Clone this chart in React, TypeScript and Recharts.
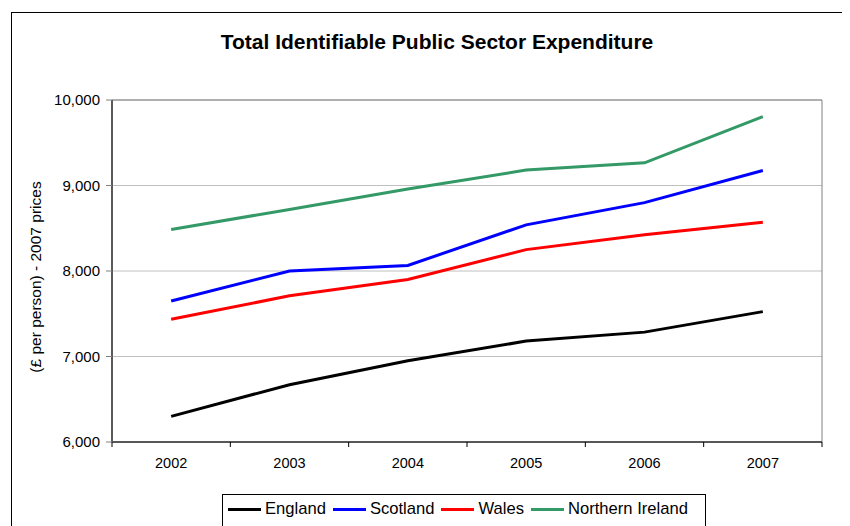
import React from "react";
import { LineChart, Line, XAxis, YAxis, CartesianGrid, ReferenceArea } from "recharts";

// values (£ per person, 2007 prices)
const years = ["2002", "2003", "2004", "2005", "2006", "2007"];
const england = [6300, 6670, 6950, 7180, 7285, 7525];
const scotland = [7650, 8000, 8065, 8540, 8800, 9175];
const wales = [7435, 7710, 7900, 8250, 8425, 8570];
const northernIreland = [8485, 8720, 8960, 9180, 9265, 9805];
const yTicks = [6000, 7000, 8000, 9000, 10000];

const series = [
    { key: "england", name: "England", color: "#000000" },
    { key: "scotland", name: "Scotland", color: "#0000ff" },
    { key: "wales", name: "Wales", color: "#ff0000" },
    { key: "northernIreland", name: "Northern Ireland", color: "#339966" },
];

const FONT = '"Liberation Sans", Arial, sans-serif';
const X_TICK_SIZE = 8;
const X_TICK_MARGIN = 8;

// category label plus Excel-style tick marks on the band edges
const YearTick = (props: any) => {
    const { x, y, payload, index, visibleTicksCount } = props;
    const half = payload && payload.offset ? payload.offset : 59;
    const axisY = y - X_TICK_SIZE - X_TICK_MARGIN;
    const last = index === (visibleTicksCount ?? years.length) - 1;
    return (
        <g>
            <line x1={x - half} y1={axisY} x2={x - half} y2={axisY + 5} stroke="#000" />
            {last && <line x1={x + half} y1={axisY} x2={x + half} y2={axisY + 5} stroke="#000" />}
            <text
                x={x}
                y={y}
                dy="0.71em"
                textAnchor="middle"
                fontSize={14.5}
                fontFamily={FONT}
                fill="#000"
            >
                {payload.value}
            </text>
        </g>
    );
};

export default function App() {
    const data = years.map((year, i) => ({
        year,
        england: england[i],
        scotland: scotland[i],
        wales: wales[i],
        northernIreland: northernIreland[i],
    }));

    const yLabel = (props: any) => {
        const vb = props.viewBox || { x: 0, y: 92, width: 104, height: 342 };
        const cx = vb.x + 27;
        const cy = vb.y + vb.height / 2 + 6;
        return (
            <text
                x={cx}
                y={cy}
                transform={`rotate(-90 ${cx} ${cy})`}
                textAnchor="middle"
                dominantBaseline="central"
                fontSize={15.5}
                fontFamily={FONT}
                fill="#000"
            >
                (£ per person) - 2007 prices
            </text>
        );
    };

    return (
        <div
            style={{
                position: "relative",
                width: 842,
                height: 518,
                overflow: "hidden",
                fontFamily: FONT,
                background: "#fff",
            }}
        >
            {/* outer chart frame */}
            <div
                style={{
                    position: "absolute",
                    left: 3,
                    top: 4,
                    width: 1000,
                    height: 1000,
                    border: "1px solid #000",
                }}
            />

            <div
                style={{
                    position: "absolute",
                    left: 0,
                    top: 22,
                    width: 858,
                    textAlign: "center",
                    fontSize: 21,
                    fontWeight: "bold",
                    lineHeight: "24px",
                    color: "#000",
                }}
            >
                Total Identifiable Public Sector Expenditure
            </div>

            <div style={{ position: "absolute", left: 0, top: 0 }}>
                <LineChart
                    width={842}
                    height={518}
                    data={data}
                    margin={{ top: 92, right: 28, left: 0, bottom: 54 }}
                >
                    <CartesianGrid vertical={false} stroke="#c0c0c0" />
                    <ReferenceArea
                        x1={years[0]}
                        x2={years[years.length - 1]}
                        y1={6000}
                        y2={10000}
                        fill="none"
                        fillOpacity={0}
                        stroke="#808080"
                        strokeOpacity={1}
                    />
                    <XAxis
                        dataKey="year"
                        scale="band"
                        height={30}
                        axisLine={{ stroke: "#000" }}
                        tickLine={false}
                        tickSize={X_TICK_SIZE}
                        tickMargin={X_TICK_MARGIN}
                        tick={<YearTick />}
                        interval={0}
                    />
                    <YAxis
                        width={104}
                        domain={[6000, 10000]}
                        ticks={yTicks}
                        tickFormatter={(v: number) => v.toLocaleString("en-US")}
                        tickSize={6}
                        tickMargin={6}
                        tick={{ fontSize: 15, fill: "#000", fontFamily: FONT }}
                        axisLine={{ stroke: "#5a5a5a", strokeWidth: 2 }}
                        tickLine={{ stroke: "#808080" }}
                        label={yLabel}
                    />
                    {series.map((s) => (
                        <Line
                            key={s.key}
                            type="linear"
                            dataKey={s.key}
                            name={s.name}
                            stroke={s.color}
                            strokeWidth={3}
                            dot={false}
                            isAnimationActive={false}
                        />
                    ))}
                </LineChart>
            </div>

            {/* legend box */}
            <div
                style={{
                    position: "absolute",
                    left: 214,
                    top: 486,
                    width: 482,
                    height: 40,
                    border: "1px solid #000",
                    background: "#fff",
                    display: "flex",
                    alignItems: "flex-start",
                    paddingTop: 4,
                    boxSizing: "content-box",
                    fontSize: 16.6,
                    lineHeight: "20px",
                    color: "#000",
                }}
            >
                {series.map((s, i) => (
                    <div
                        key={s.key}
                        style={{
                            display: "flex",
                            alignItems: "center",
                            marginLeft: i === 0 ? 5 : 7,
                        }}
                    >
                        <span
                            style={{
                                display: "inline-block",
                                width: 33,
                                height: 3,
                                background: s.color,
                                marginRight: 4,
                            }}
                        />
                        <span>{s.name}</span>
                    </div>
                ))}
            </div>
        </div>
    );
}
